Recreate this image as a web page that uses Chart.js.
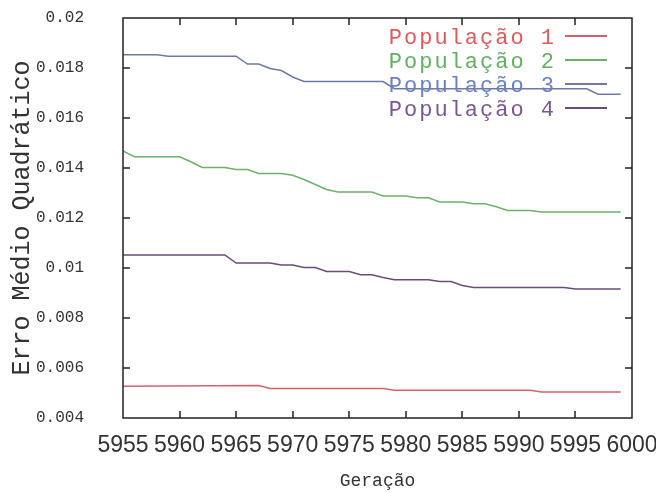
<!DOCTYPE html>
<html>
<head>
<meta charset="utf-8">
<script src="https://cdn.jsdelivr.net/npm/chart.js@4.4.1/dist/chart.umd.min.js"></script>
<style>
  body { margin: 0; background: #fff; }
  #wrap { width: 656px; height: 493px; }
</style>
</head>
<body>
<div id="wrap"><canvas id="erroChart" width="656" height="493"></canvas></div>
<script>
// generations / values (breakpoints of each curve)
const pop1Gen = [5955, 5967, 5968, 5978, 5979, 5991, 5992, 5999];
const pop1Val = [0.00527, 0.0053, 0.00518, 0.00518, 0.00511, 0.00511, 0.00504, 0.00504];

const pop2Gen = [5955, 5956, 5960, 5961, 5962, 5964, 5965, 5966, 5967, 5969, 5970, 5971, 5972, 5973, 5974,
  5977, 5978, 5980, 5981, 5982, 5983, 5985, 5986, 5987, 5988, 5989, 5991, 5992, 5999];
const pop2Val = [0.01468, 0.01445, 0.01445, 0.01425, 0.01402, 0.01402, 0.01394, 0.01394, 0.01378, 0.01378,
  0.01371, 0.01354, 0.01334, 0.01314, 0.01304, 0.01304, 0.01288, 0.01288, 0.01281, 0.01281, 0.01264,
  0.01264, 0.01257, 0.01257, 0.01245, 0.0123, 0.0123, 0.01224, 0.01224];

const pop3Gen = [5955, 5958, 5959, 5965, 5966, 5967, 5968, 5969, 5970, 5971, 5978, 5979, 5996, 5997, 5999];
const pop3Val = [0.01853, 0.01853, 0.01847, 0.01847, 0.01816, 0.01816, 0.01798, 0.0179, 0.01764, 0.01746,
  0.01746, 0.01717, 0.01717, 0.01695, 0.01695];

const pop4Gen = [5955, 5964, 5965, 5968, 5969, 5970, 5971, 5972, 5973, 5975, 5976, 5977, 5978, 5979, 5982,
  5983, 5984, 5985, 5986, 5994, 5995, 5999];
const pop4Val = [0.01052, 0.01052, 0.0102, 0.0102, 0.01012, 0.01012, 0.01002, 0.01002, 0.00986, 0.00986,
  0.00973, 0.00973, 0.00962, 0.00953, 0.00953, 0.00946, 0.00946, 0.0093, 0.00922, 0.00922, 0.00916, 0.00916];

const seriesNames = ['População 1', 'População 2', 'População 3', 'População 4'];
const xTickValues = [5955, 5960, 5965, 5970, 5975, 5980, 5985, 5990, 5995, 6000];
const yTickValues = [0.004, 0.006, 0.008, 0.01, 0.012, 0.014, 0.016, 0.018, 0.02];
const yTickLabels = ['0.004', '0.006', '0.008', '0.01', '0.012', '0.014', '0.016', '0.018', '0.02'];

const lineColors = ['#d8606e', '#6cb06c', '#7078a4', '#6a4c78'];
const keyTextColors = ['#e05a5a', '#62b062', '#6a80c4', '#7c5690'];
const ink = '#222';
const mono = '"Liberation Mono", "DejaVu Sans Mono", monospace';

function toPoints(gens, vals) {
  return gens.map((g, i) => ({ x: g, y: vals[i] }));
}

const pointSets = [
  toPoints(pop1Gen, pop1Val),
  toPoints(pop2Gen, pop2Val),
  toPoints(pop3Gen, pop3Val),
  toPoints(pop4Gen, pop4Val)
];

// gnuplot style frame: full box, ticks pointing inward on all four sides
const frame = {
  id: 'frame',
  afterDraw(chart) {
    const { ctx, chartArea: a, scales: { x, y } } = chart;
    ctx.save();
    ctx.strokeStyle = ink;
    ctx.lineWidth = 1.5;
    ctx.strokeRect(a.left, a.top, a.right - a.left, a.bottom - a.top);
    ctx.beginPath();
    x.ticks.forEach(t => {
      const px = Math.round(x.getPixelForValue(t.value));
      if (px <= a.left + 1 || px >= a.right - 1) return;
      ctx.moveTo(px, a.bottom); ctx.lineTo(px, a.bottom - 7);
      ctx.moveTo(px, a.top); ctx.lineTo(px, a.top + 7);
    });
    y.ticks.forEach(t => {
      const py = Math.round(y.getPixelForValue(t.value));
      if (py <= a.top + 1 || py >= a.bottom - 1) return;
      ctx.moveTo(a.left, py); ctx.lineTo(a.left + 7, py);
      ctx.moveTo(a.right, py); ctx.lineTo(a.right - 7, py);
    });
    ctx.stroke();
    ctx.restore();
  }
};

// key inside the top right corner, text right aligned, sample line after it
const gnuKey = {
  id: 'gnuKey',
  afterDatasetsDraw(chart) {
    const { ctx, chartArea: a } = chart;
    const lineEnd = a.right - 25;
    const lineStart = lineEnd - 42;
    const textRight = lineStart - 9;
    ctx.save();
    ctx.font = '22px ' + mono;
    if ('letterSpacing' in ctx) ctx.letterSpacing = '2px';
    ctx.textAlign = 'right';
    ctx.textBaseline = 'middle';
    chart.data.datasets.forEach((ds, i) => {
      const yy = a.top + 20 + i * 24;
      ctx.fillStyle = keyTextColors[i];
      ctx.fillText(ds.label, textRight, yy);
      ctx.strokeStyle = ds.borderColor;
      ctx.lineWidth = 1.8;
      ctx.beginPath();
      ctx.moveTo(lineStart, yy - 2);
      ctx.lineTo(lineEnd, yy - 2);
      ctx.stroke();
    });
    ctx.restore();
  }
};

const ctx = document.getElementById('erroChart');
new Chart(ctx, {
  type: 'line',
  data: {
    datasets: pointSets.map((pts, i) => ({
      label: seriesNames[i],
      data: pts,
      borderColor: lineColors[i],
      backgroundColor: lineColors[i],
      borderWidth: 1.5,
      pointRadius: 0,
      tension: 0,
      fill: false
    }))
  },
  options: {
    responsive: false,
    animation: false,
    devicePixelRatio: 1,
    layout: { autoPadding: false, padding: { top: 18, right: 24, bottom: 0, left: 0 } },
    plugins: {
      legend: { display: false },
      tooltip: { enabled: false }
    },
    scales: {
      x: {
        type: 'linear',
        position: 'bottom',
        min: 5955,
        max: 6000,
        afterBuildTicks: s => { s.ticks = xTickValues.map(v => ({ value: v })); },
        afterFit: s => { s.height = 75; s.paddingLeft = 0; s.paddingRight = 0; },
        grid: { display: false },
        border: { display: false },
        ticks: {
          autoSkip: false,
          maxRotation: 0,
          minRotation: 0,
          padding: 6,
          color: '#333',
          font: { family: '"Liberation Sans", Arimo, sans-serif', size: 23 },
          callback: v => String(v)
        },
        title: {
          display: true,
          text: 'Geração',
          color: '#333',
          padding: { top: 0, bottom: 1 },
          font: { family: mono, size: 18 }
        }
      },
      y: {
        type: 'linear',
        position: 'left',
        min: 0.004,
        max: 0.02,
        afterBuildTicks: s => { s.ticks = yTickValues.map(v => ({ value: v })); },
        afterFit: s => { s.width = 123; s.paddingTop = 0; s.paddingBottom = 0; },
        grid: { display: false },
        border: { display: false },
        ticks: {
          padding: 31,
          color: '#333',
          font: { family: mono, size: 16 },
          callback: (v, i) => yTickLabels[i]
        },
        title: {
          display: true,
          text: 'Erro Médio Quadrático',
          color: '#333',
          padding: { top: 7, bottom: 0 },
          font: { family: mono, size: 25 }
        }
      }
    }
  },
  plugins: [frame, gnuKey]
});
</script>
</body>
</html>
